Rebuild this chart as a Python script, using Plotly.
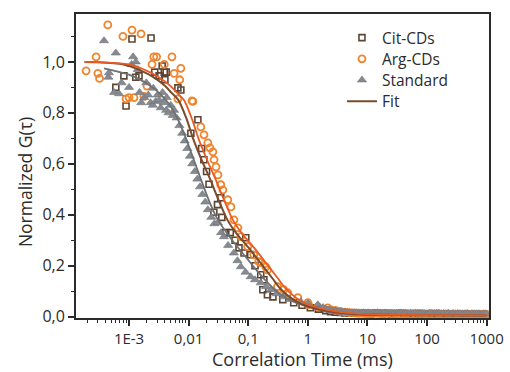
import plotly.graph_objects as go

# ---------------- data ----------------
# Cit-CDs (brown open squares)
cit_t = [6.0e-4, 8.2e-4, 8.9e-4, 1.12e-3, 1.3e-3, 1.47e-3, 2.34e-3, 2.7e-3, 3.2e-3, 3.6e-3,
         3.9e-3, 4.0e-3, 4.2e-3, 6.6e-3, 7.4e-3, 0.0109, 0.0143, 0.0165, 0.018, 0.020,
         0.022, 0.0265, 0.0305, 0.0346, 0.036, 0.042, 0.05, 0.06, 0.07, 0.085,
         0.091, 0.11, 0.13, 0.162, 0.176, 0.183, 0.21, 0.26, 0.38, 0.58,
         0.8, 1.1, 1.5,
         2.0, 2.4, 2.9, 3.5, 4.2, 5.0, 6.0, 7.2, 8.6, 10.3, 12.4, 14.8, 17.8, 21.3, 25.6,
         30.7, 36.8, 44, 53, 64, 76, 92, 110, 132, 158, 190, 228, 273, 328, 393, 472,
         566, 679, 815, 978]
cit_g = [0.90, 0.945, 0.827, 1.09, 0.94, 0.945, 1.094, 0.96, 0.945, 0.984,
         0.96, 0.93, 0.96, 0.898, 0.89, 0.72, 0.773, 0.66, 0.616, 0.57,
         0.52, 0.41, 0.44, 0.467, 0.39, 0.33, 0.33, 0.30, 0.27, 0.25,
         0.31, 0.243, 0.20, 0.165, 0.106, 0.145, 0.086, 0.078, 0.067, 0.055,
         0.045, 0.035, 0.03,
         0.024, 0.02, 0.018, 0.017, 0.015, 0.014, 0.015, 0.013, 0.014, 0.012, 0.013, 0.014,
         0.012, 0.013, 0.011, 0.012, 0.013, 0.011, 0.012, 0.011, 0.012, 0.010, 0.011, 0.012,
         0.010, 0.011, 0.010, 0.011, 0.010, 0.011, 0.010, 0.009, 0.010, 0.010, 0.009]

# Arg-CDs (orange open circles)
arg_t = [1.9e-4, 2.8e-4, 3.0e-4, 3.2e-4, 4.4e-4, 7.9e-4, 8.9e-4, 1.0e-3, 1.12e-3, 1.21e-3,
         1.59e-3, 1.78e-3, 2.0e-3, 2.43e-3, 2.6e-3, 2.9e-3, 3.9e-3, 5.25e-3, 5.7e-3, 6.6e-3,
         7.1e-3, 7.4e-3, 0.0114, 0.0118, 0.016, 0.0181, 0.021, 0.0227, 0.0255, 0.0267,
         0.0288, 0.031, 0.0346, 0.0375, 0.0455, 0.0512, 0.0575, 0.067, 0.075, 0.098,
         0.124, 0.15, 0.162, 0.197, 0.21, 0.31, 0.393, 0.46, 0.68, 1.0,
         1.03, 1.47, 2.15,
         2.4, 2.9, 3.5, 4.2, 5.0, 6.0, 7.2, 8.6, 10.3, 12.4, 14.8, 17.8, 21.3, 25.6,
         30.7, 36.8, 44, 53, 64, 76, 92, 110, 132, 158, 190, 228, 273, 328, 393, 472,
         566, 679, 815, 978]
arg_g = [0.965, 1.02, 0.955, 0.935, 1.145, 1.10, 0.855, 0.86, 1.125, 0.86,
         1.11, 0.865, 0.905, 0.99, 1.02, 1.02, 0.99, 1.02, 0.955, 0.855,
         0.93, 0.975, 0.847, 0.845, 0.745, 0.714, 0.682, 0.663, 0.647, 0.616,
         0.588, 0.557, 0.518, 0.498, 0.459, 0.431, 0.38, 0.349, 0.314, 0.275,
         0.243, 0.216, 0.212, 0.196, 0.184, 0.118, 0.106, 0.094, 0.075, 0.055,
         0.047, 0.039, 0.035,
         0.028, 0.025, 0.021, 0.018, 0.016, 0.015, 0.014, 0.013, 0.014, 0.012, 0.013, 0.012,
         0.013, 0.011, 0.012, 0.011, 0.012, 0.010, 0.011, 0.012, 0.010, 0.011, 0.010, 0.011,
         0.010, 0.011, 0.010, 0.009, 0.010, 0.010, 0.009, 0.010, 0.009, 0.010]

# Standard (gray filled triangles)
std_t = [3.8e-4, 4.5e-4, 4.6e-4, 5.6e-4, 6.0e-4, 6.8e-4, 7.5e-4, 1.0e-3, 1.1e-3, 1.17e-3,
         1.3e-3, 1.4e-3, 1.5e-3, 1.6e-3, 1.8e-3, 1.95e-3, 2.1e-3, 2.3e-3, 2.5e-3, 2.55e-3,
         2.8e-3, 3.0e-3, 3.2e-3, 3.4e-3, 3.65e-3, 3.8e-3, 4.2e-3, 4.3e-3, 4.6e-3, 5.0e-3,
         5.4e-3, 5.7e-3, 6.3e-3, 7.0e-3, 7.8e-3, 8.6e-3, 9.5e-3, 0.0105, 0.0115, 0.0127,
         0.014, 0.0155, 0.017, 0.019, 0.021, 0.024, 0.027, 0.031, 0.035, 0.039,
         0.046, 0.0574, 0.066, 0.075, 0.09, 0.11, 0.13, 0.162, 0.2, 0.24,
         0.3, 0.39, 0.5, 0.76, 1.0, 1.47, 1.8,
         2.0, 2.2, 2.4, 2.65, 2.9, 3.2, 3.5, 3.85, 4.2, 4.6, 5.0, 5.5, 6.0, 6.6, 7.2, 7.9,
         8.6, 9.4, 10.3, 11.3, 12.4, 13.6, 14.8, 16.2, 17.8, 19.5, 21.3, 23.4, 25.6, 28,
         30.7, 33.6, 36.8, 40.3, 44, 48.3, 53, 58, 64, 70, 76, 84, 92, 100, 110, 120,
         132, 145, 158, 174, 190, 208, 228, 250, 273, 299, 328, 359, 393, 431, 472, 517,
         566, 620, 679, 744, 815, 893, 978]
std_g = [1.083, 0.94, 0.957, 0.88, 1.035, 0.875, 0.918, 0.90, 0.99, 1.02,
         1.0, 0.97, 0.88, 0.84, 0.86, 0.918, 0.87, 0.84, 0.83, 0.897,
         0.845, 0.87, 0.85, 0.82, 0.88, 0.84, 0.81, 0.86, 0.80, 0.83,
         0.79, 0.81, 0.78, 0.75, 0.72, 0.69, 0.66, 0.63, 0.60, 0.57,
         0.54, 0.51, 0.48, 0.45, 0.42, 0.39, 0.365, 0.369, 0.33, 0.314,
         0.28, 0.25, 0.22, 0.196, 0.175, 0.157, 0.145, 0.133, 0.118, 0.106,
         0.09, 0.078, 0.068, 0.059, 0.052, 0.047, 0.036,
         0.030, 0.027, 0.025, 0.023, 0.022, 0.020, 0.019, 0.018, 0.017, 0.017, 0.016, 0.016,
         0.015, 0.016, 0.014, 0.015, 0.016, 0.014, 0.015, 0.013, 0.015, 0.014, 0.016, 0.014,
         0.013, 0.015, 0.014, 0.013, 0.015, 0.014, 0.013, 0.014, 0.015, 0.013, 0.014, 0.012,
         0.014, 0.013, 0.015, 0.013, 0.012, 0.014, 0.013, 0.012, 0.014, 0.013, 0.012, 0.013,
         0.014, 0.012, 0.013, 0.012, 0.013, 0.011, 0.013, 0.012, 0.013, 0.012, 0.011, 0.012,
         0.013, 0.011, 0.012, 0.012, 0.011, 0.012, 0.011, 0.012, 0.011, 0.012]

# Fit curves
fit_arg_t = [1.78e-4, 3.16e-4, 1e-3, 2.0e-3, 3.16e-3, 5.0e-3, 6.3e-3, 8.3e-3, 0.0112, 0.0149,
             0.020, 0.0286, 0.0398, 0.0552, 0.0794, 0.126, 0.20, 0.316, 0.427, 0.631,
             1.0, 2.15, 3.98, 10, 100, 1000]
fit_arg_g = [1.0, 0.999, 0.99, 0.965, 0.94, 0.905, 0.88, 0.851, 0.78, 0.694,
             0.62, 0.537, 0.455, 0.38, 0.325, 0.27, 0.21, 0.15, 0.11, 0.075,
             0.048, 0.027, 0.017, 0.01, 0.006, 0.005]

fit_cit_t = [1.8e-4, 2.6e-4, 8.1e-4, 1.62e-3, 2.56e-3, 4.05e-3, 5.1e-3, 6.7e-3, 9.1e-3, 0.0121,
             0.0162, 0.0232, 0.0322, 0.0447, 0.0643, 0.102, 0.162, 0.256, 0.346, 0.511,
             0.81, 1.74, 3.2, 8.1, 100, 1000]
fit_cit_g = [1.0, 0.999, 0.99, 0.965, 0.94, 0.905, 0.88, 0.851, 0.78, 0.694,
             0.62, 0.537, 0.455, 0.38, 0.325, 0.27, 0.21, 0.15, 0.11, 0.075,
             0.048, 0.027, 0.017, 0.01, 0.006, 0.005]

fit_std_t = [3.8e-4, 1e-3, 2e-3, 3.5e-3, 5.5e-3, 8e-3, 0.0112, 0.016, 0.022, 0.031,
             0.05, 0.08, 0.13, 0.2, 0.3, 0.5, 1.0, 2.0, 5.0, 20, 1000]
fit_std_g = [0.975, 0.95, 0.915, 0.87, 0.81, 0.73, 0.64, 0.54, 0.455, 0.38,
             0.31, 0.25, 0.19, 0.14, 0.10, 0.065, 0.04, 0.022, 0.012, 0.008, 0.005]

xtick_vals = [0.001, 0.01, 0.1, 1, 10, 100, 1000]
xtick_text = ["1E-3", "0,01", "0,1", "1", "10", "100", "1000"]

# ---------------- styling ----------------
FONT = "Open Sans"
C_CIT = "#5b4636"
C_ARG = "#f0852d"
C_STD = "#868a90"
C_FIT_ARG = "#ea5a24"
C_FIT_CIT = "#7a4b2c"
C_FIT_STD = "#707070"
AXC = "#2b2b2b"

fig = go.Figure()

fig.add_trace(go.Scatter(
    x=cit_t, y=cit_g, mode="markers", name="Cit-CDs", legend="legend",
    marker=dict(symbol="square-open", size=6, color=C_CIT, line=dict(width=1.6, color=C_CIT)),
))
fig.add_trace(go.Scatter(
    x=arg_t, y=arg_g, mode="markers", name="Arg-CDs", legend="legend2",
    marker=dict(symbol="circle-open", size=7, color=C_ARG, line=dict(width=1.8, color=C_ARG)),
))
fig.add_trace(go.Scatter(
    x=std_t, y=std_g, mode="markers", name="Standard", legend="legend3",
    marker=dict(symbol="triangle-up", size=8, color=C_STD, line=dict(width=0.6, color="#6e7278")),
))
fig.add_trace(go.Scatter(
    x=fit_std_t, y=fit_std_g, mode="lines", name="Fit", showlegend=False,
    line=dict(color=C_FIT_STD, width=1.8, shape="spline", smoothing=0.8),
))
fig.add_trace(go.Scatter(
    x=fit_cit_t, y=fit_cit_g, mode="lines", name="Fit", legend="legend4",
    line=dict(color=C_FIT_CIT, width=2.0, shape="spline", smoothing=0.8),
))
fig.add_trace(go.Scatter(
    x=fit_arg_t, y=fit_arg_g, mode="lines", name="Fit", showlegend=False,
    line=dict(color=C_FIT_ARG, width=1.8, shape="spline", smoothing=0.8),
))

def leg(ypaper):
    return dict(
        x=0.644, y=ypaper, xanchor="left", yanchor="middle",
        bgcolor="rgba(0,0,0,0)", borderwidth=0,
        font=dict(family=FONT, size=15.5, color=AXC),
        itemsizing="trace",
    )

fig.update_layout(
    width=510, height=372,
    margin=dict(l=76, r=21, t=14, b=54, autoexpand=False),
    paper_bgcolor="white", plot_bgcolor="white",
    separators=",.",
    font=dict(family=FONT, color=AXC, size=16),
    showlegend=True,
    legend=leg(0.921),
    legend2=leg(0.8513),
    legend3=leg(0.7816),
    legend4=leg(0.7118),
    xaxis=dict(
        type="log", range=[-3.89, 3.04],
        tickmode="array", tickvals=xtick_vals, ticktext=xtick_text,
        ticks="outside", ticklen=6, tickwidth=1.5, tickcolor=AXC,
        minor=dict(ticks="outside", ticklen=3, tickwidth=1.2, tickcolor=AXC, dtick="D1", showgrid=False),
        showline=True, linecolor=AXC, linewidth=1.8, mirror=True,
        showgrid=False, zeroline=False,
        automargin=False, ticklabeloverflow="allow",
        tickfont=dict(size=15, family=FONT, color=AXC),
    ),
    yaxis=dict(
        range=[-0.005, 1.188],
        tickmode="linear", tick0=0, dtick=0.2, tickformat=".1f",
        ticks="outside", ticklen=6, tickwidth=1.5, tickcolor=AXC,
        minor=dict(ticks="outside", ticklen=3, tickwidth=1.2, tickcolor=AXC, dtick=0.1, showgrid=False),
        showline=True, linecolor=AXC, linewidth=1.8, mirror=True,
        showgrid=False, zeroline=False,
        automargin=False,
        tickfont=dict(size=16, family=FONT, color=AXC),
    ),
    annotations=[
        dict(
            text="Normalized G(τ)", textangle=-90,
            xref="paper", yref="paper", x=-0.1235, y=0.447,
            xanchor="center", yanchor="middle", showarrow=False,
            font=dict(size=17.5, family=FONT, color=AXC),
        ),
        dict(
            text="Correlation Time (ms)",
            xref="paper", yref="paper", x=0.548, y=-0.1365,
            xanchor="center", yanchor="middle", showarrow=False,
            font=dict(size=18, family=FONT, color=AXC),
        ),
    ],
)

# the page's default 8px body margin would shift the 510x372 figure out of the window
fig.write_html("out.html", config={"displayModeBar": False},
               post_script="document.body.style.margin='0';")
